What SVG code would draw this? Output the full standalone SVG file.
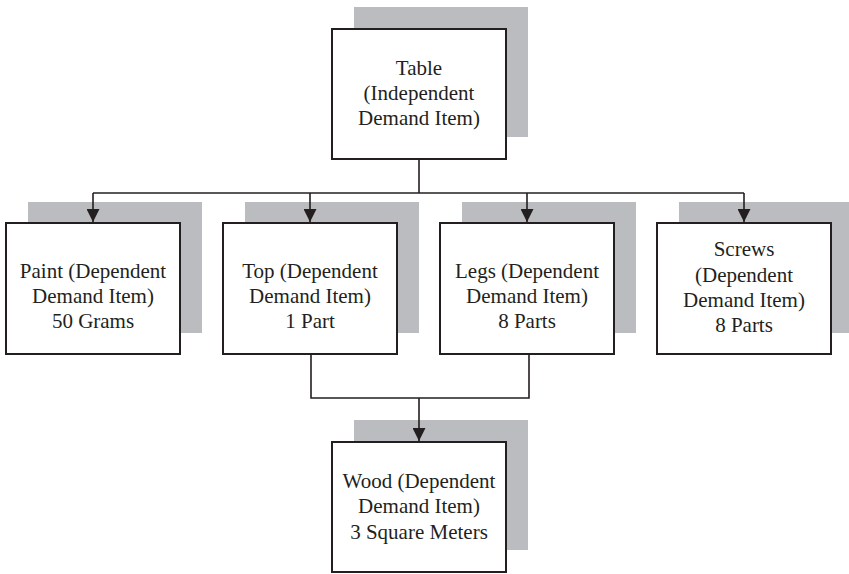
<svg xmlns="http://www.w3.org/2000/svg" width="849" height="574" viewBox="0 0 849 574">
  <style>
    .shadow { fill: #bbbcbf; }
    .box { fill: #ffffff; stroke: #231f20; stroke-width: 2; }
    .wire { fill: none; stroke: #231f20; stroke-width: 1.6; }
    text { font-family: "Liberation Serif", "Times New Roman", serif; font-size: 21px; fill: #231f20; text-anchor: middle; }
  </style>
  <defs>
    <marker id="arrow" markerWidth="13" markerHeight="13" refX="13" refY="6.5" orient="auto" markerUnits="userSpaceOnUse">
      <path d="M0,0 L13,6.5 L0,13 Z" fill="#231f20"/>
    </marker>
  </defs>

  <!-- Table -->
  <g id="table">
    <rect class="shadow" x="354" y="7" width="174" height="130"/>
    <rect class="box" x="332" y="29" width="174" height="130"/>
    <text x="419" y="75">Table</text>
    <text x="419" y="100">(Independent</text>
    <text x="419" y="125">Demand Item)</text>
  </g>

  <!-- Paint -->
  <g id="paint">
    <rect class="shadow" x="28" y="202" width="174" height="131"/>
    <rect class="box" x="6" y="223" width="174" height="131"/>
    <text x="93" y="278">Paint (Dependent</text>
    <text x="93" y="303">Demand Item)</text>
    <text x="93" y="328">50 Grams</text>
  </g>

  <!-- Top -->
  <g id="top">
    <rect class="shadow" x="245" y="202" width="174" height="131"/>
    <rect class="box" x="223" y="223" width="174" height="131"/>
    <text x="310" y="278">Top (Dependent</text>
    <text x="310" y="303">Demand Item)</text>
    <text x="310" y="328">1 Part</text>
  </g>

  <!-- Legs -->
  <g id="legs">
    <rect class="shadow" x="462" y="202" width="174" height="131"/>
    <rect class="box" x="440" y="223" width="174" height="131"/>
    <text x="527" y="278">Legs (Dependent</text>
    <text x="527" y="303">Demand Item)</text>
    <text x="527" y="328">8 Parts</text>
  </g>

  <!-- Screws -->
  <g id="screws">
    <rect class="shadow" x="679" y="202" width="174" height="131"/>
    <rect class="box" x="657" y="223" width="174" height="131"/>
    <text x="744" y="256">Screws</text>
    <text x="744" y="282">(Dependent</text>
    <text x="744" y="307">Demand Item)</text>
    <text x="744" y="332">8 Parts</text>
  </g>

  <!-- Wood -->
  <g id="wood">
    <rect class="shadow" x="354" y="420" width="174" height="130"/>
    <rect class="box" x="332" y="442" width="174" height="130"/>
    <text x="419" y="488">Wood (Dependent</text>
    <text x="419" y="513">Demand Item)</text>
    <text x="419" y="539">3 Square Meters</text>
  </g>

  <!-- connectors, drawn over the shadows -->
  <g id="connectors">
    <path class="wire" d="M419,159 V193"/>
    <path class="wire" d="M93,193 H744"/>
    <path class="wire" d="M93,193 V222" marker-end="url(#arrow)"/>
    <path class="wire" d="M310,193 V222" marker-end="url(#arrow)"/>
    <path class="wire" d="M527,193 V222" marker-end="url(#arrow)"/>
    <path class="wire" d="M744,193 V222" marker-end="url(#arrow)"/>
    <path class="wire" d="M311,354 V398 H529 V354"/>
    <path class="wire" d="M419,398 V441" marker-end="url(#arrow)"/>
  </g>
</svg>
